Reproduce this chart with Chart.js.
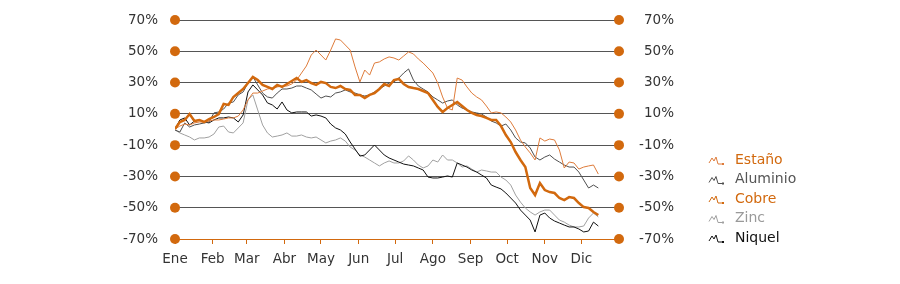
<!DOCTYPE html>
<html>
<head>
<meta charset="utf-8">
<script src="https://cdn.jsdelivr.net/npm/chart.js@4"></script>
<style>
  html, body { margin: 0; padding: 0; background: #fff; }
</style>
</head>
<body>
<canvas id="myChart" width="900" height="284"></canvas>
<script>
// sample days (day of year, one point every 4 days)
const days = [0,4,8,12,16,20,24,28,32,36,40,44,48,52,56,60,64,68,72,76,80,84,88,92,96,100,104,108,112,116,
  120,124,128,132,136,140,144,148,152,156,160,164,168,172,176,180,184,188,192,196,200,204,208,212,216,220,224,228,232,236,
  240,244,248,252,256,260,264,268,272,276,280,284,288,292,296,300,304,308,312,316,320,324,328,332,336,340,344,348];

const monthDays = [0,31,59,90,120,151,181,212,243,273,304,334];
const monthNames = ['Ene','Feb','Mar','Abr','May','Jun','Jul','Ago','Sep','Oct','Nov','Dic'];
const yTicks = [-70,-50,-30,-10,10,30,50,70];
const seriesNames = ['Estaño','Aluminio','Cobre','Zinc','Niquel'];

const estano = [0.3,2.2,3.5,2.9,4.2,4.8,4.8,5.4,6.1,6.1,
  6.7,7.4,7.4,8.6,12.5,18.9,23.3,23.3,24.6,25.9,
  26.5,27.2,27.8,27.8,29.1,31.6,36.1,40.6,47.6,50.8,
  47.6,44.4,50.8,57.9,57.2,54.0,50.8,40.0,30.4,38.0,
  34.8,42.5,43.2,45.1,46.4,45.7,44.4,47.0,49.6,48.3,
  45.1,42.5,39.3,36.1,29.7,20.8,13.7,12.5,32.9,31.6,
  27.2,23.3,20.8,18.9,15.0,10.6,11.2,10.6,8.0,4.8,
  -0.3,-6.7,-11.2,-15.0,-19.5,-5.4,-7.4,-6.1,-6.7,-13.1,
  -24.6,-20.8,-21.4,-25.3,-24.0,-23.3,-22.7,-28.5];

const aluminio = [-0.3,-1.6,4.2,1.6,2.9,3.5,4.2,4.8,10.6,11.2,
  13.1,16.9,17.6,22.1,24.0,29.7,33.6,28.5,23.3,20.8,
  20.1,23.3,25.9,25.9,26.5,27.8,27.8,26.5,25.3,22.7,
  20.1,21.4,20.8,23.3,24.0,25.3,24.0,23.3,22.1,21.4,
  22.1,24.0,25.9,27.8,29.7,30.4,32.9,36.1,38.7,31.6,
  27.8,25.9,24.0,20.8,18.9,16.9,18.2,18.9,15.7,13.7,
  12.5,11.2,10.6,9.9,8.0,5.4,4.2,2.2,3.5,-0.3,
  -5.4,-8.0,-8.6,-11.8,-17.6,-19.5,-17.6,-16.3,-18.9,-20.8,
  -22.7,-24.0,-24.0,-27.2,-32.3,-37.4,-35.5,-37.4];

const cobre = [0.3,4.8,6.1,9.9,5.4,6.1,4.8,6.7,8.0,9.9,
  16.3,15.7,20.8,23.3,25.9,29.7,33.6,31.6,28.5,27.2,
  25.9,28.5,27.2,29.1,31.0,32.9,30.4,31.6,29.7,28.5,
  30.4,29.7,27.2,26.5,27.8,25.9,25.3,22.1,22.1,20.1,
  22.1,23.3,25.9,29.1,27.8,31.6,32.3,29.1,27.2,26.5,
  25.9,24.6,23.3,18.9,14.4,11.2,13.7,15.7,17.6,15.0,
  12.5,10.6,9.3,8.6,7.4,6.1,6.1,2.2,-3.5,-8.0,
  -14.4,-19.5,-24.0,-37.4,-41.9,-34.2,-38.7,-40.0,-40.6,-43.8,
  -45.1,-43.2,-43.8,-47.0,-49.6,-50.2,-52.7,-54.7];

const zinc = [-0.3,-2.2,-3.5,-4.8,-6.7,-5.4,-5.4,-4.8,-2.9,1.6,
  2.2,-1.6,-2.2,1.0,4.2,18.9,22.1,12.5,2.9,-2.2,
  -4.8,-4.2,-3.5,-2.2,-4.2,-4.2,-3.5,-4.8,-5.4,-4.8,
  -6.7,-8.6,-7.4,-6.7,-5.4,-7.4,-11.2,-13.1,-16.3,-17.6,
  -19.5,-21.4,-23.3,-21.4,-20.1,-21.4,-21.4,-20.1,-16.9,-19.5,
  -22.7,-24.6,-23.3,-19.5,-20.8,-16.3,-19.5,-19.5,-21.4,-24.0,
  -23.3,-25.3,-27.2,-25.9,-26.5,-27.2,-27.2,-30.4,-32.3,-35.5,
  -41.9,-46.4,-50.2,-52.7,-54.7,-52.7,-51.5,-51.5,-54.7,-57.9,
  -59.2,-61.1,-62.3,-62.3,-61.7,-56.6,-53.4,-55.9];

const niquel = [0.3,6.1,7.4,2.9,5.4,6.1,4.8,4.2,6.1,7.4,
  7.4,8.0,7.4,4.8,9.3,24.0,28.5,25.3,22.1,17.0,
  15.7,13.1,17.6,12.5,10.6,11.2,11.2,11.2,8.6,9.3,
  8.6,7.4,3.5,1.0,-0.3,-2.9,-8.0,-12.5,-17.0,-16.3,
  -13.1,-9.9,-13.1,-16.3,-18.2,-19.5,-20.8,-22.1,-22.7,-23.3,
  -24.6,-25.9,-30.4,-31.0,-31.0,-30.4,-29.7,-30.4,-21.4,-22.7,
  -24.0,-25.9,-27.2,-29.1,-31.0,-35.5,-36.8,-38.0,-40.6,-43.8,
  -47.0,-51.5,-54.7,-57.9,-65.5,-54.7,-53.4,-56.6,-58.5,-59.8,
  -61.1,-62.3,-62.3,-63.6,-65.5,-64.9,-59.2,-61.7];

const xMin = 0, xMax = 365;
const ORANGE = '#d2690e';
const FONT = 'DejaVu Sans';

function toPoints(vals) {
  return vals.map((v, i) => ({ x: days[i], y: v }));
}

// little zig-zag icon + label on the right side
const sideLegend = {
  id: 'sideLegend',
  afterDraw(chart) {
    const ctx = chart.ctx;
    const area = chart.chartArea;
    const items = chart.data.datasets.filter(d => d.legendColor);
    ctx.save();
    ctx.font = '14px "' + FONT + '"';
    ctx.textBaseline = 'middle';
    items.forEach((d, i) => {
      const x = area.right + 90;
      const y = area.bottom - 79 + i * 19.5;
      ctx.strokeStyle = d.borderColor;
      ctx.fillStyle = d.borderColor;
      ctx.lineWidth = 1;
      ctx.beginPath();
      ctx.moveTo(x, y + 3);
      ctx.lineTo(x + 3, y - 2);
      ctx.lineTo(x + 5, y + 1);
      ctx.lineTo(x + 7, y - 3);
      ctx.lineTo(x + 9, y + 4);
      ctx.lineTo(x + 14, y + 4);
      ctx.stroke();
      ctx.fillRect(x + 13, y + 3, 2, 2);
      ctx.fillStyle = d.legendColor;
      ctx.fillText(d.label, x + 26, y);
    });
    ctx.restore();
  }
};

function fixY(width) {
  return s => { s.width = width; s.paddingTop = 0; s.paddingBottom = 0; };
}

const ctx = document.getElementById('myChart').getContext('2d');
const chart = new Chart(ctx, {
  type: 'line',
  data: {
    datasets: [
      {
        label: 'dots',
        data: yTicks.flatMap(v => [{ x: xMin, y: v }, { x: xMax, y: v }]),
        showLine: false,
        pointRadius: 5,
        pointBackgroundColor: ORANGE,
        pointBorderWidth: 0,
        clip: false,
        order: -1
      },
      { label: seriesNames[0], data: toPoints(estano), borderColor: '#de7b3a', legendColor: ORANGE, borderWidth: 1, order: 2 },
      { label: seriesNames[1], data: toPoints(aluminio), borderColor: '#4f4f4f', legendColor: '#555555', borderWidth: 1, order: 3 },
      { label: seriesNames[2], data: toPoints(cobre), borderColor: ORANGE, legendColor: ORANGE, borderWidth: 2.5, order: 1 },
      { label: seriesNames[3], data: toPoints(zinc), borderColor: '#a0a0a0', legendColor: '#999999', borderWidth: 1, order: 5 },
      { label: seriesNames[4], data: toPoints(niquel), borderColor: '#111111', legendColor: '#111111', borderWidth: 1, order: 4 }
    ]
  },
  options: {
    responsive: false,
    animation: false,
    layout: { padding: { top: 20, left: 0, right: 226, bottom: 0 } },
    elements: { point: { radius: 0 }, line: { tension: 0 } },
    plugins: { legend: { display: false }, tooltip: { enabled: false } },
    scales: {
      x: {
        type: 'linear',
        min: xMin,
        max: xMax,
        afterBuildTicks: s => { s.ticks = monthDays.map(v => ({ value: v })); },
        afterFit: s => { s.height = 45; s.paddingLeft = 0; s.paddingRight = 0; },
        ticks: {
          callback: (v, i) => monthNames[i],
          color: '#333',
          font: { family: FONT, size: 13.5 },
          padding: 7,
          maxRotation: 0,
          autoSkip: false
        },
        grid: { drawOnChartArea: false, drawTicks: true, tickLength: 5, color: ORANGE },
        border: { display: true, color: ORANGE, width: 1 }
      },
      y: {
        position: 'left',
        min: -70,
        max: 70,
        afterBuildTicks: s => { s.ticks = yTicks.map(v => ({ value: v })); },
        afterFit: fixY(175),
        ticks: {
          callback: v => v + '%',
          color: '#333',
          font: { family: FONT, size: 13.5 },
          padding: 17
        },
        grid: {
          drawTicks: false,
          color: c => (c.tick && c.tick.value === -70) ? ORANGE : '#555555',
          lineWidth: 1
        },
        border: { display: false }
      },
      y2: {
        position: 'right',
        min: -70,
        max: 70,
        afterBuildTicks: s => { s.ticks = yTicks.map(v => ({ value: v })); },
        afterFit: fixY(55),
        ticks: {
          callback: v => v + '%',
          color: '#333',
          font: { family: FONT, size: 13.5 },
          crossAlign: 'far',
          padding: 17
        },
        grid: { display: false },
        border: { display: false }
      }
    }
  },
  plugins: [sideLegend]
});
</script>
</body>
</html>
